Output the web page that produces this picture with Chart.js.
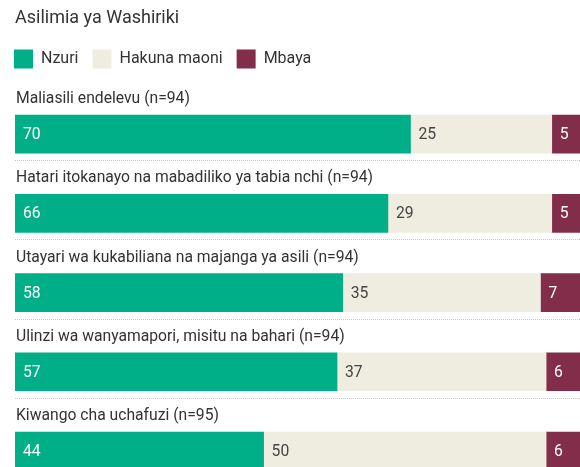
<!DOCTYPE html>
<html>
<head>
<meta charset="utf-8">
<script src="https://cdn.jsdelivr.net/npm/chart.js@4/dist/chart.umd.min.js"></script>
<style>
  html, body { margin: 0; padding: 0; background: #fff; overflow: hidden; }
  canvas { display: block; }
</style>
</head>
<body>
<canvas id="ShareChart" width="580" height="501"></canvas>
<script>
var Categories = [
    "Maliasili endelevu (n=94)",
    "Hatari itokanayo na mabadiliko ya tabia nchi (n=94)",
    "Utayari wa kukabiliana na majanga ya asili (n=94)",
    "Ulinzi wa wanyamapori, misitu na bahari (n=94)",
    "Kiwango cha uchafuzi (n=95)"
];
var SeriesNames = ["Nzuri", "Hakuna maoni", "Mbaya"];
var Nzuri = [70, 66, 58, 57, 44];
var HakunaMaoni = [25, 29, 35, 37, 50];
var Mbaya = [5, 5, 7, 6, 6];

var Colours = ['rgb(0, 174, 135)', 'rgb(238, 237, 224)', 'rgb(130, 46, 74)'];
var LabelColours = ['#ffffff', '#444444', '#ffffff'];
var FontName = "Roboto, 'Noto Sans', sans-serif";

// value written inside each bar segment, left aligned
var valueLabels = {
    id: 'valueLabels',
    afterDatasetsDraw: function (chart) {
        var ctx = chart.ctx;
        ctx.save();
        ctx.font = '15.7px ' + FontName;
        ctx.textAlign = 'left';
        ctx.textBaseline = 'middle';
        chart.data.datasets.forEach(function (ds, i) {
            var meta = chart.getDatasetMeta(i);
            meta.data.forEach(function (bar, j) {
                ctx.fillStyle = LabelColours[i];
                ctx.fillText(ds.data[j], Math.min(bar.base, bar.x) + 8, bar.y + 1);
            });
        });
        ctx.restore();
    }
};

// dotted rule under every group
var groupRules = {
    id: 'groupRules',
    afterDatasetsDraw: function (chart) {
        var ctx = chart.ctx;
        var area = chart.chartArea;
        var meta = chart.getDatasetMeta(0);
        ctx.save();
        ctx.strokeStyle = '#c8c8c8';
        ctx.lineWidth = 1;
        ctx.setLineDash([1, 1]);
        meta.data.forEach(function (bar) {
            var y = Math.round(bar.y + 26) + 0.5;
            ctx.beginPath();
            ctx.moveTo(area.left, y);
            ctx.lineTo(area.right, y);
            ctx.stroke();
        });
        ctx.restore();
    }
};

var canvas = document.getElementById("ShareChart").getContext('2d');

var myBarChart = new Chart(canvas, {
    type: 'bar',
    data: {
        labels: Categories,
        datasets: [
            { label: SeriesNames[0], data: Nzuri, backgroundColor: Colours[0] },
            { label: SeriesNames[1], data: HakunaMaoni, backgroundColor: Colours[1] },
            { label: SeriesNames[2], data: Mbaya, backgroundColor: Colours[2] }
        ]
    },
    options: {
        indexAxis: 'y',
        responsive: false,
        animation: false,
        datasets: { bar: { barThickness: 38, borderWidth: 0 } },
        layout: { padding: 0 },
        scales: {
            x: {
                position: 'top',
                stacked: true,
                min: 0,
                max: 100,
                grid: { display: false },
                border: { display: false },
                ticks: { display: false },
                afterFit: function (s) { s.height = 16; }
            },
            y: {
                stacked: true,
                grid: { display: false },
                border: { display: false },
                ticks: {
                    mirror: true,
                    padding: 1,
                    labelOffset: -35,
                    color: '#333',
                    font: { family: FontName, size: 15.7 }
                },
                afterFit: function (s) { s.width = 15; }
            }
        },
        plugins: {
            title: {
                display: true,
                text: 'Asilimia ya Washiriki',
                align: 'start',
                fullSize: false,
                color: '#333',
                font: { family: FontName, size: 18, weight: 'normal' },
                padding: { top: 8, bottom: 6 }
            },
            legend: {
                display: true,
                align: 'start',
                labels: {
                    boxWidth: 19,
                    boxHeight: 19,
                    padding: 14,
                    color: '#333',
                    font: { family: FontName, size: 16 }
                }
            },
            tooltip: { enabled: false }
        }
    },
    plugins: [groupRules, valueLabels]
});
</script>
</body>
</html>
